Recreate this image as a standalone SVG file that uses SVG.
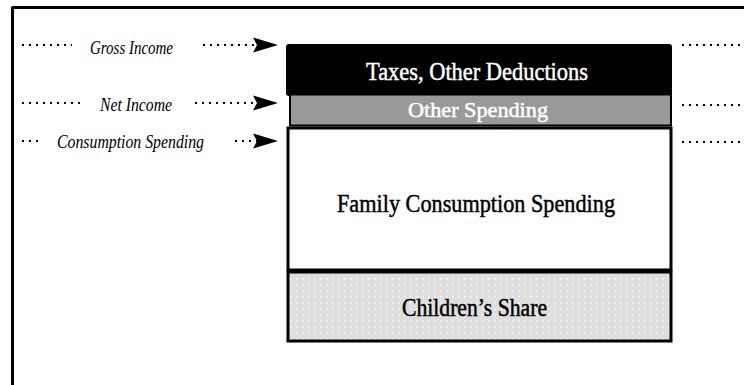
<svg xmlns="http://www.w3.org/2000/svg" width="744" height="385" viewBox="0 0 744 385">
<style>
.dot{stroke:#000;stroke-width:2;stroke-dasharray:2 5;fill:none}
.lbl{font-family:"Liberation Serif",serif;font-style:italic;font-size:19px;fill:#000}
.ttl{font-family:"Liberation Serif",serif;font-size:26px;text-anchor:middle;stroke-width:0.5}
.box{stroke:#000;stroke-width:3}
.arrow{fill:#000}
</style>
<defs>
<pattern id="dots" width="6" height="6" patternUnits="userSpaceOnUse">
<rect width="6" height="6" fill="#dedede"/>
<rect x="2" y="2" width="1.6" height="1.6" fill="#f6f6f6"/>
</pattern>
</defs>
<rect width="744" height="385" fill="#fff"/>
<path id="frame" d="M12.5,385 V7.5 H744" fill="none" stroke="#000" stroke-width="3" stroke-linejoin="round"/>

<g id="taxes">
<rect x="286" y="44" width="386" height="52" rx="3" fill="#000"/>
<text class="ttl" x="477" y="80" fill="#fff" stroke="#fff" textLength="222" lengthAdjust="spacingAndGlyphs">Taxes, Other Deductions</text>
</g>
<g id="other-spending">
<rect x="290" y="94.5" width="381" height="31" fill="#999" stroke="#000" stroke-width="2"/>
<text class="ttl" x="478" y="117" fill="#fff" stroke="#fff" style="font-size:22px" textLength="140" lengthAdjust="spacingAndGlyphs">Other Spending</text>
</g>
<g id="family">
<rect class="box" x="288" y="128" width="383" height="142" fill="#fff"/>
<text class="ttl" x="476" y="212" fill="#000" stroke="#000" textLength="278" lengthAdjust="spacingAndGlyphs">Family Consumption Spending</text>
</g>
<g id="children">
<rect class="box" x="288" y="272" width="383" height="69" fill="url(#dots)"/>
<text class="ttl" x="474.5" y="316" fill="#000" stroke="#000" textLength="145" lengthAdjust="spacingAndGlyphs">Children’s Share</text>
</g>

<g id="labels">
<text class="lbl" x="90" y="54" textLength="83" lengthAdjust="spacingAndGlyphs">Gross Income</text>
<text class="lbl" x="100" y="111" textLength="72" lengthAdjust="spacingAndGlyphs">Net Income</text>
<text class="lbl" x="57" y="148" textLength="147" lengthAdjust="spacingAndGlyphs">Consumption Spending</text>
</g>

<g id="connectors">
<line class="dot" x1="22" y1="45" x2="72" y2="45"/>
<line class="dot" x1="203" y1="45" x2="257" y2="45"/>
<path class="arrow" d="M253,37.5 L278,45 L253,52.5 L257,45 Z"/>
<line class="dot" x1="22" y1="103" x2="80" y2="103"/>
<line class="dot" x1="195" y1="103" x2="257" y2="103"/>
<path class="arrow" d="M253,95.5 L278,103 L253,110.5 L257,103 Z"/>
<line class="dot" x1="22" y1="141" x2="42" y2="141"/>
<line class="dot" x1="235" y1="141" x2="257" y2="141"/>
<path class="arrow" d="M253,133.5 L278,141 L253,148.5 L257,141 Z"/>
<line class="dot" x1="682" y1="45" x2="744" y2="45"/>
<line class="dot" x1="682" y1="105" x2="744" y2="105"/>
<line class="dot" x1="682" y1="142" x2="744" y2="142"/>
</g>
</svg>
